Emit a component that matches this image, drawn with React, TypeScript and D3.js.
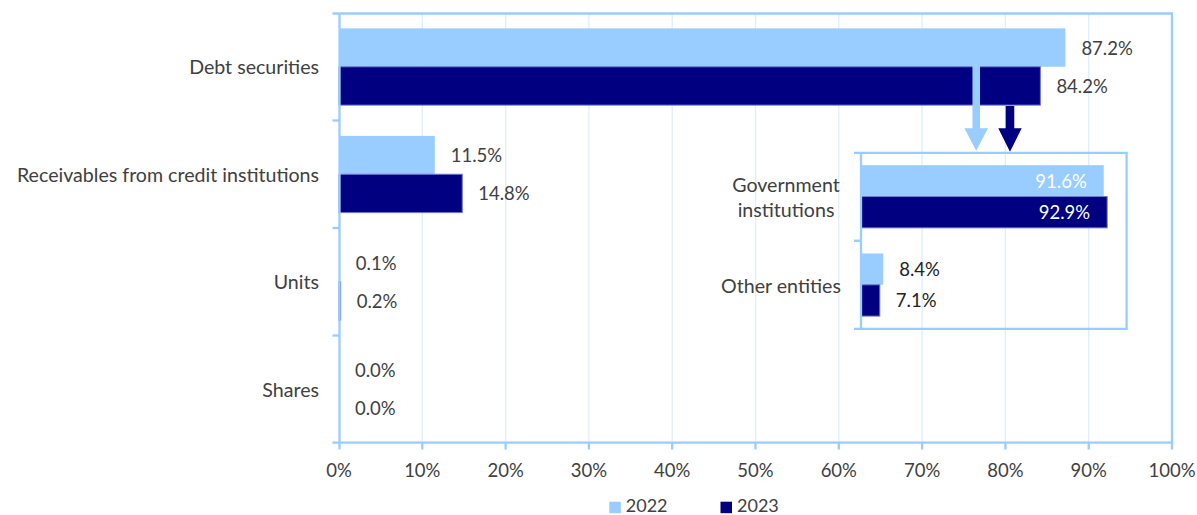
import React from "react";
import * as d3 from "d3";

const categories = ["Debt securities", "Receivables from credit institutions", "Units", "Shares"];
const values2022 = [87.2, 11.5, 0.1, 0.0];
const values2023 = [84.2, 14.8, 0.2, 0.0];
const seriesNames = ["2022", "2023"];
const xTicks = [0, 10, 20, 30, 40, 50, 60, 70, 80, 90, 100];

const insetCategories = [["Government", "institutions"], ["Other entities"]];
const inset2022 = [91.6, 8.4];
const inset2023 = [92.9, 7.1];

const C22 = "#99ccff";
const C23 = "#000080";
const AXIS = "#99ccff";
const GRID = "#deeefd";
const TXT = "#404040";
const FONT = "Lato, 'Open Sans', sans-serif";
const FS = 18.5;
const FSC = 19.6;

export default function App() {
  const W = 1197, H = 515;
  const x = d3.scaleLinear().domain([0, 100]).range([339, 1172]);
  const y = d3.scaleBand<string>().domain(categories).range([13, 443]).padding(0);
  const bw = y.bandwidth();
  const barH = bw * 0.357;
  const off = bw * 0.143;

  const ix = d3.scaleLinear().domain([0, 100]).range([861, 1126]);
  const iKeys = insetCategories.map((c) => c.join(" "));
  const iy = d3.scaleBand<string>().domain(iKeys).range([152.5, 329]).padding(0);
  const ibw = iy.bandwidth();
  const ibarH = ibw * 0.355;
  const ioff = ibw * 0.144;

  const series = [values2022, values2023];
  const iseries = [inset2022, inset2023];
  const colors = [C22, C23];

  // arrows
  const a1 = x(76.5), a2 = x(80.55);

  return (
    <svg width={W} height={H} style={{ position: "absolute", left: 0, top: 0, fontFamily: FONT }}>
      <rect width={W} height={H} fill="#fff" />
      {/* gridlines */}
      {xTicks.slice(1, -1).map((t) => (
        <line key={t} x1={x(t)} x2={x(t)} y1={13} y2={443} stroke={GRID} strokeWidth={1.3} />
      ))}
      {/* main bars */}
      {series.map((vals, si) =>
        categories.map((c, ci) => (
          <rect
            key={`${si}-${ci}`}
            x={x(0)}
            y={(y(c) as number) + off + si * barH}
            width={Math.max(0, x(vals[ci]) - x(0))}
            height={barH}
            fill={colors[si]}
            stroke={si === 1 && vals[ci] > 0 ? "#7178cf" : "none"}
            strokeWidth={si === 1 ? 1 : 0}
          />
        ))
      )}
      {/* main labels */}
      {series.map((vals, si) =>
        categories.map((c, ci) => (
          <text
            key={`l${si}-${ci}`}
            x={x(vals[ci]) + 16}
            y={(y(c) as number) + off + si * barH + barH / 2}
            dominantBaseline="central"
            fontSize={FS}
            fill={TXT}
          >
            {vals[ci].toFixed(1)}%
          </text>
        ))
      )}
      {/* category labels */}
      {categories.map((c) => (
        <text key={c} x={319} y={(y(c) as number) + bw / 2} textAnchor="end" dominantBaseline="central" fontSize={FSC} fill={TXT}>
          {c}
        </text>
      ))}
      {/* main frame */}
      <line x1={332.5} x2={1173} y1={13.5} y2={13.5} stroke={AXIS} strokeWidth={2.3} />
      <line x1={1172} x2={1172} y1={13} y2={443} stroke={AXIS} strokeWidth={2.3} />
      <line x1={332.5} x2={1173} y1={442.7} y2={442.7} stroke={AXIS} strokeWidth={2.3} />
      <line x1={339.5} x2={339.5} y1={13} y2={443} stroke={AXIS} strokeWidth={2.3} />
      {categories.map((c, i) =>
        i === 0 ? null : (
          <line key={`t${c}`} x1={332.5} x2={339} y1={y(c) as number} y2={y(c) as number} stroke={AXIS} strokeWidth={2.3} />
        )
      )}
      {xTicks.map((t) => (
        <g key={`xt${t}`}>
          <line x1={t === 0 ? x(t) + 0.5 : x(t)} x2={t === 0 ? x(t) + 0.5 : x(t)} y1={442} y2={449.5} stroke={AXIS} strokeWidth={2.3} />
          <text x={x(t)} y={470} textAnchor="middle" dominantBaseline="central" fontSize={FS} fill={TXT}>
            {t}%
          </text>
        </g>
      ))}
      {/* arrows */}
      <path
        d={`M${a1 - 3.8},60 L${a1 + 3.8},60 L${a1 + 3.8},128.3 L${a1 + 11.8},128.3 L${a1},150.7 L${a1 - 11.8},128.3 L${a1 - 3.8},128.3 Z`}
        fill={C22}
      />
      <path
        d={`M${a2 - 4.3},106 L${a2 + 4.3},106 L${a2 + 4.3},128.3 L${a2 + 11.7},128.3 L${a2},151.7 L${a2 - 11.7},128.3 L${a2 - 4.3},128.3 Z`}
        fill={C23}
      />
      {/* inset bars */}
      {iseries.map((vals, si) =>
        iKeys.map((k, ci) => (
          <rect
            key={`i${si}-${ci}`}
            x={ix(0)}
            y={(iy(k) as number) + ioff + si * ibarH}
            width={ix(vals[ci]) - ix(0)}
            height={ibarH}
            fill={colors[si]}
            stroke={si === 1 ? "#7178cf" : "none"}
            strokeWidth={si === 1 ? 1 : 0}
          />
        ))
      )}
      {iseries.map((vals, si) =>
        iKeys.map((k, ci) => {
          const inside = vals[ci] > 50;
          return (
            <text
              key={`il${si}-${ci}`}
              x={inside ? ix(vals[ci]) - 17 : ix(vals[ci]) + 16}
              y={(iy(k) as number) + ioff + si * ibarH + ibarH / 2}
              textAnchor={inside ? "end" : "start"}
              dominantBaseline="central"
              fontSize={FS}
              fill={inside ? "#ffffff" : "#222"}
            >
              {vals[ci].toFixed(1)}%
            </text>
          );
        })
      )}
      {/* inset category labels */}
      {insetCategories.map((lines, ci) => {
        const cy = (iy(iKeys[ci]) as number) + ibw / 2;
        const lh = 25;
        return (
          <text key={`ic${ci}`} textAnchor="middle" fontSize={FSC} fill={TXT} dominantBaseline="central">
            {lines.map((ln, li) => (
              <tspan key={li} x={lines.length > 1 ? 786 : 781} y={cy + (li - (lines.length - 1) / 2) * lh}>
                {ln}
              </tspan>
            ))}
          </text>
        );
      })}
      {/* inset frame */}
      <line x1={854} x2={1127.5} y1={152.8} y2={152.8} stroke={AXIS} strokeWidth={2.3} />
      <line x1={854} x2={1127.5} y1={328.8} y2={328.8} stroke={AXIS} strokeWidth={2.3} />
      <line x1={1126.6} x2={1126.6} y1={152} y2={329.5} stroke={AXIS} strokeWidth={2.3} />
      <line x1={861} x2={861} y1={152} y2={329.5} stroke={AXIS} strokeWidth={2.3} />
      <line x1={854} x2={861} y1={iy(iKeys[1]) as number} y2={iy(iKeys[1]) as number} stroke={AXIS} strokeWidth={2.3} />
      {/* legend */}
      {seriesNames.map((s, i) => {
        const lx = i === 0 ? 609.3 : 720.5;
        return (
          <g key={s}>
            <rect x={lx} y={501.7} width={11.5} height={11.5} fill={colors[i]} />
            <text x={lx + 16.5} y={504.5} dominantBaseline="central" fontSize={18} fill={TXT}>
              {s}
            </text>
          </g>
        );
      })}
    </svg>
  );
}
